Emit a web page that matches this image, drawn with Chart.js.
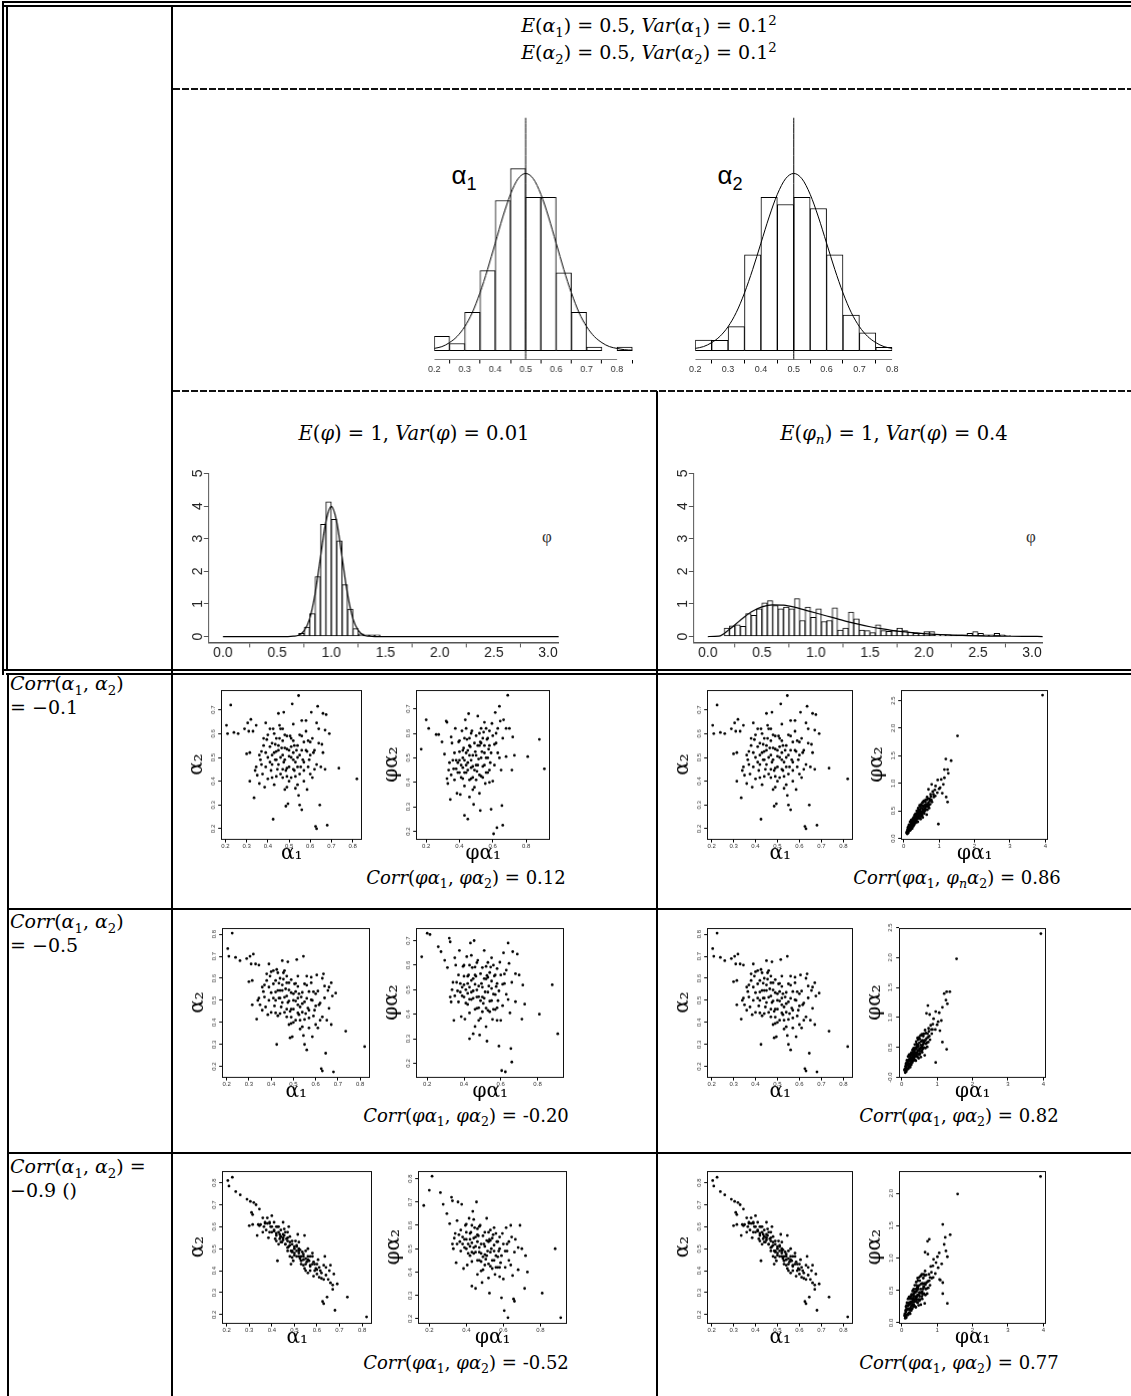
<!DOCTYPE html>
<html>
<head>
<meta charset="utf-8">
<script src="https://cdn.jsdelivr.net/npm/chart.js@4.4.1/dist/chart.umd.min.js"></script>
<style>
body { margin: 0; background: #fff; }
#page { position: relative; width: 1131px; height: 1396px; overflow: hidden; background: #fff; }
.ln { position: absolute; background: #000; }
.dash { position: absolute; height: 2px; background: repeating-linear-gradient(90deg, #111 0 7px, transparent 7px 9px); }
.m { position: absolute; font-family: 'DejaVu Serif', serif; font-size: 18px; white-space: nowrap; color: #000; }
.ctr { transform: translate(-50%, -50%); }
.m sub, .m sup, .g sub { font-size: 70%; line-height: 0; }
.g { position: absolute; font-family: 'Liberation Sans', sans-serif; white-space: nowrap; color: #000; transform: translate(-50%, -50%); }
.holder { position: absolute; }
</style>
</head>
<body>
<div id="page">
  <div class="ln" style="left:2px;top:1px;width:1129px;height:2px"></div>
  <div class="ln" style="left:2px;top:5px;width:1129px;height:2px"></div>
  <div class="ln" style="left:2px;top:1px;width:2px;height:674px"></div>
  <div class="ln" style="left:6px;top:5px;width:2px;height:666px"></div>
  <div class="ln" style="left:171px;top:5px;width:2px;height:1391px"></div>
  <div class="ln" style="left:2px;top:669px;width:1129px;height:2px"></div>
  <div class="ln" style="left:6px;top:673px;width:1125px;height:2px"></div>
  <div class="ln" style="left:7px;top:673px;width:2px;height:723px"></div>
  <div class="ln" style="left:7px;top:908px;width:1124px;height:2px"></div>
  <div class="ln" style="left:7px;top:1152px;width:1124px;height:2px"></div>
  <div class="ln" style="left:656px;top:391px;width:2px;height:1005px"></div>
  <div class="dash" style="left:173px;top:88px;width:958px"></div>
  <div class="dash" style="left:173px;top:390px;width:958px"></div>

  <div class="m ctr" style="left:649px;top:25px;font-size:19px"><i>E</i>(<i>α</i><sub>1</sub>) = 0.5, <i>Var</i>(<i>α</i><sub>1</sub>) = 0.1<sup>2</sup></div>
  <div class="m ctr" style="left:649px;top:52px;font-size:19px"><i>E</i>(<i>α</i><sub>2</sub>) = 0.5, <i>Var</i>(<i>α</i><sub>2</sub>) = 0.1<sup>2</sup></div>

  <div class="g" style="left:464px;top:175px;font-size:26px">α<sub>1</sub></div>
  <div class="g" style="left:730px;top:175px;font-size:26px">α<sub>2</sub></div>

  <div class="m ctr" style="left:414px;top:433px;font-size:19.5px"><i>E</i>(<i>φ</i>) = 1, <i>Var</i>(<i>φ</i>) = 0.01</div>
  <div class="m ctr" style="left:894px;top:433px;font-size:19.5px"><i>E</i>(<i>φ</i><sub><i>n</i></sub>) = 1, <i>Var</i>(<i>φ</i>) = 0.4</div>
  <div class="m ctr" style="left:547px;top:537px;font-family:'Liberation Serif';font-size:17px;color:#333">φ</div>
  <div class="m ctr" style="left:1031px;top:537px;font-family:'Liberation Serif';font-size:17px;color:#333">φ</div>

  <div class="m" style="left:10px;top:671px;line-height:24px;font-size:19px"><i>Corr</i>(<i>α</i><sub>1</sub>, <i>α</i><sub>2</sub>)<br>= −0.1</div>
  <div class="m" style="left:10px;top:909px;line-height:24px;font-size:19px"><i>Corr</i>(<i>α</i><sub>1</sub>, <i>α</i><sub>2</sub>)<br>= −0.5</div>
  <div class="m" style="left:10px;top:1154px;line-height:24px;font-size:19px"><i>Corr</i>(<i>α</i><sub>1</sub>, <i>α</i><sub>2</sub>) =<br>−0.9 ()</div>

  <div class="m ctr" style="left:466px;top:877px"><i>Corr</i>(<i>φα</i><sub>1</sub>, <i>φα</i><sub>2</sub>) = 0.12</div>
  <div class="m ctr" style="left:957px;top:877px"><i>Corr</i>(<i>φα</i><sub>1</sub>, <i>φ</i><sub><i>n</i></sub><i>α</i><sub>2</sub>) = 0.86</div>
  <div class="m ctr" style="left:466px;top:1115px"><i>Corr</i>(<i>φα</i><sub>1</sub>, <i>φα</i><sub>2</sub>) = -0.20</div>
  <div class="m ctr" style="left:959px;top:1115px"><i>Corr</i>(<i>φα</i><sub>1</sub>, <i>φα</i><sub>2</sub>) = 0.82</div>
  <div class="m ctr" style="left:466px;top:1362px"><i>Corr</i>(<i>φα</i><sub>1</sub>, <i>φα</i><sub>2</sub>) = -0.52</div>
  <div class="m ctr" style="left:959px;top:1362px"><i>Corr</i>(<i>φα</i><sub>1</sub>, <i>φα</i><sub>2</sub>) = 0.77</div>
</div>

<script>
// histogram data, density per 0.05 bin
const alpha1Bins = [0.2, 0.25, 0.3, 0.35, 0.4, 0.45, 0.5, 0.55, 0.6, 0.65, 0.7, 0.75, 0.8];
const alpha1Density = [0.32, 0.16, 0.86, 1.8, 3.38, 4.1, 3.45, 3.45, 1.75, 0.86, 0.08, 0, 0.08];
const alpha2Bins = [0.2, 0.25, 0.3, 0.35, 0.4, 0.45, 0.5, 0.55, 0.6, 0.65, 0.7, 0.75];
const alpha2Density = [0.24, 0.23, 0.54, 2.16, 3.45, 3.29, 3.45, 3.2, 2.16, 0.8, 0.4, 0.075];
const alphaCurveX = [0.2, 0.225, 0.25, 0.275, 0.3, 0.325, 0.35, 0.375, 0.4, 0.425, 0.45, 0.475, 0.5,
  0.525, 0.55, 0.575, 0.6, 0.625, 0.65, 0.675, 0.7, 0.725, 0.75, 0.775, 0.8, 0.825, 0.85];
const alphaCurveY = [0.05, 0.09, 0.18, 0.32, 0.54, 0.86, 1.3, 1.83, 2.42, 3.01, 3.52, 3.87, 3.99,
  3.87, 3.52, 3.01, 2.42, 1.83, 1.3, 0.86, 0.54, 0.32, 0.18, 0.09, 0.05, 0.02, 0.01];

const phiBins = [0.7, 0.75, 0.8, 0.85, 0.9, 0.95, 1.0, 1.05, 1.1, 1.15, 1.2, 1.25, 1.3, 1.35, 1.4];
const phiDensity = [0.1, 0.29, 0.7, 1.84, 3.44, 4.13, 3.59, 2.93, 1.59, 0.84, 0.24, 0.08, 0.05, 0.05, 0.05];
const phiCurveX = [0, 0.6, 0.65, 0.7, 0.75, 0.8, 0.85, 0.9, 0.95, 1.0, 1.05, 1.1, 1.15, 1.2, 1.25, 1.3, 1.35, 1.4, 3.1];
const phiCurveY = [0, 0, 0.01, 0.04, 0.18, 0.54, 1.3, 2.42, 3.52, 3.99, 3.52, 2.42, 1.3, 0.54, 0.18, 0.04, 0.01, 0, 0];

const phiNBins = [0.15, 0.2, 0.25, 0.3, 0.35, 0.4, 0.45, 0.5, 0.55, 0.6, 0.65, 0.7, 0.75, 0.8, 0.85, 0.9, 0.95,
  1.0, 1.05, 1.1, 1.15, 1.2, 1.25, 1.3, 1.35, 1.4, 1.45, 1.5, 1.55, 1.6, 1.65, 1.7, 1.75, 1.8, 1.85, 1.9, 1.95,
  2.0, 2.05, 2.1, 2.15, 2.2, 2.25, 2.3, 2.35, 2.4, 2.45, 2.5, 2.55, 2.6, 2.65, 2.7, 2.75];
const phiNDensity = [0.26, 0.33, 0.36, 0.31, 0.70, 0.65, 0.85, 1.03, 1.10, 0.95, 0.85, 0.90, 0.85, 1.16, 0.49,
  0.90, 0.59, 0.85, 0.46, 0.49, 0.88, 0.20, 0.26, 0.75, 0.54, 0.20, 0.18, 0.12, 0.36, 0.18, 0.16, 0.18, 0.26,
  0.18, 0.13, 0.10, 0.10, 0.15, 0.15, 0.06, 0.06, 0.06, 0.05, 0.05, 0.05, 0.10, 0.15, 0.10, 0.05, 0.05, 0.10,
  0.05, 0.03];
const phiNCurveX = [0, 0.1, 0.2, 0.3, 0.4, 0.5, 0.6, 0.7, 0.8, 0.9, 1.0, 1.1, 1.2, 1.3, 1.4, 1.5, 1.6, 1.7, 1.8,
  1.9, 2.0, 2.2, 2.4, 2.6, 2.8, 3.0, 3.1];
const phiNCurveY = [0, 0.01, 0.22, 0.5, 0.75, 0.91, 0.97, 0.96, 0.9, 0.81, 0.72, 0.63, 0.54, 0.45, 0.37, 0.3,
  0.24, 0.19, 0.15, 0.12, 0.09, 0.05, 0.03, 0.015, 0.008, 0.003, 0];

// scatter data: alpha1 draws are shared by the three correlation rows
const alpha1Draw = [.205,.21,.225,.24,.26,.29,.305,.32,.31,.345, .33,.30,.315,.315,.335,.345,.34,.35,.36,.365,
  .37,.375,.385,.39,.39,.395,.40,.41,.41,.415, .42,.42,.425,.43,.435,.435,.44,.445,.425,.45,
  .455,.455,.46,.465,.47,.47,.475,.475,.48,.48, .485,.485,.49,.49,.495,.50,.50,.505,.51,.51,
  .515,.52,.52,.525,.525,.53,.535,.54,.545,.545, .55,.55,.555,.56,.56,.565,.57,.57,.58,.58,
  .585,.585,.595,.60,.605,.61,.615,.62,.625,.63, .63,.635,.64,.645,.65,.655,.66,.67,.675,.68,
  .735,.82,.45,.47,.49,.52,.54,.44,.38,.60];
const alpha2Row1 = [.635,.60,.72,.605,.60,.62,.645,.66,.61,.635, .61,.515,.52,.40,.33,.46,.445,.425,.39,.49,
  .525,.43,.375,.46,.645,.575,.595,.545,.62,.445, .51,.415,.62,.385,.49,.555,.525,.45,.24,.685,
  .635,.58,.50,.54,.415,.62,.69,.48,.365,.595, .445,.295,.535,.375,.305,.505,.46,.59,.545,.415,
  .725,.64,.49,.55,.445,.37,.53,.385,.34,.76, .30,.595,.46,.28,.655,.49,.565,.445,.655,.61,
  .365,.525,.49,.565,.69,.415,.52,.45,.21,.20, .645,.715,.62,.30,.46,.555,.685,.615,.68,.215,
  .455,.41,.53,.45,.455,.52,.50,.42,.55,.43];
const alpha2Row2 = [.735,.70,.805,.695,.68,.69,.70,.71,.665,.66, .665,.585,.59,.48,.415,.51,.50,.48,.455,.54,
  .57,.47,.435,.50,.665,.61,.63,.575,.635,.475, .538,.443,.64,.43,.51,.578,.545,.47,.30,.68,
  .625,.596,.514,.552,.425,.61,.675,.49,.39,.58, .45,.33,.535,.395,.335,.50,.46,.575,.54,.41,
  .685,.61,.48,.53,.435,.37,.515,.38,.34,.70, .30,.575,.44,.275,.61,.465,.54,.42,.605,.58,
  .335,.50,.455,.53,.615,.375,.48,.41,.19,.18, .60,.62,.565,.26,.41,.545,.56,.58,.52,.175,
  .36,.29,.545,.46,.46,.51,.485,.44,.59,.39];
const alpha2Row3 = [.81,.785,.825,.76,.745,.725,.715,.71,.665,.68, .70,.605,.61,.655,.56,.605,.61,.61,.575,.60,
  .615,.585,.55,.575,.62,.60,.65,.58,.62,.545, .56,.535,.60,.52,.545,.565,.555,.53,.445,.62,
  .59,.56,.52,.545,.49,.575,.60,.51,.465,.555, .49,.43,.52,.46,.445,.50,.48,.535,.51,.465,
  .565,.53,.48,.495,.455,.43,.485,.425,.41,.56, .40,.49,.44,.39,.50,.445,.465,.42,.48,.465,
  .375,.44,.41,.43,.45,.37,.40,.365,.26,.25, .425,.465,.415,.28,.36,.40,.425,.335,.385,.22,
  .28,.19,.55,.505,.49,.49,.465,.53,.615,.385];
// denser core of the alpha clouds
const alpha1Core = [.36,.37,.38,.39,.40,.40,.41,.42,.42,.43, .43,.44,.44,.45,.45,.46,.46,.47,.47,.48,
  .48,.49,.49,.50,.50,.51,.51,.52,.52,.53, .53,.54,.54,.55,.55,.56,.56,.57,.57,.58,
  .59,.59,.60,.61,.62,.63,.64,.66,.67,.69];
const alpha2Row1Core = [.51,.47,.58,.52,.50,.41,.48,.56,.47,.52, .60,.49,.58,.47,.55,.43,.62,.51,.57,.49,
  .54,.42,.59,.53,.40,.50,.58,.45,.57,.48, .42,.55,.46,.51,.43,.53,.59,.48,.40,.53,
  .57,.46,.51,.58,.53,.47,.56,.52,.45,.60];
const alpha2Row2Core = [.56,.515,.62,.56,.535,.445,.51,.59,.50,.545, .625,.51,.60,.49,.57,.445,.635,.52,.58,.497,
  .547,.424,.594,.53,.40,.497,.577,.443,.563,.47, .41,.536,.446,.493,.413,.509,.569,.455,.375,.502,
  .539,.429,.475,.542,.488,.425,.511,.464,.39,.533];
const alpha2Row3Core = [.64,.62,.64,.615,.60,.575,.585,.60,.57,.575, .60,.555,.585,.54,.565,.52,.575,.535,.55,.515,
  .53,.485,.535,.51,.47,.49,.515,.465,.50,.465, .445,.475,.45,.455,.43,.45,.465,.425,.40,.43,
  .43,.40,.405,.415,.39,.36,.38,.345,.315,.34];

const phiA1 = [.17,.20,.215,.26,.275,.295,.31,.32,.325,.325, .33,.335,.345,.35,.355,.36,.365,.37,.375,.38,
  .385,.39,.395,.40,.40,.405,.41,.415,.42,.42, .425,.43,.43,.435,.44,.445,.45,.45,.455,.46,
  .46,.465,.47,.475,.48,.485,.49,.495,.50,.505, .51,.515,.52,.525,.525,.53,.535,.54,.545,.55,
  .555,.56,.565,.57,.575,.58,.585,.59,.595,.60, .605,.61,.615,.62,.625,.63,.64,.645,.65,.655,
  .66,.665,.68,.69,.70,.715,.73,.72,.81,.88, .91,.44,.47,.50,.52,.48,.55,.43,.58,.46, .53];
const phiA2Row1 = [.535,.655,.62,.595,.595,.565,.515,.65,.645,.415, .395,.45,.33,.585,.56,.49,.455,.41,.62,.455,
  .355,.48,.565,.525,.44,.35,.47,.61,.415,.50, .54,.265,.385,.655,.47,.575,.25,.45,.68,.51,
  .34,.545,.415,.61,.465,.31,.38,.525,.59,.445, .67,.495,.355,.285,.565,.425,.525,.465,.605,.645,
  .395,.50,.575,.44,.535,.61,.48,.29,.64,.405, .19,.555,.685,.60,.215,.52,.71,.65,.45,.305,
  .225,.655,.505,.755,.62,.45,.51,.585,.505,.575, .455,.52,.49,.47,.55,.42,.52,.44,.45,.58, .62];
const phiA2Row2 = [.634,.73,.725,.675,.655,.62,.59,.71,.695,.47, .45,.50,.375,.63,.60,.53,.495,.45,.66,.49,
  .39,.51,.595,.555,.47,.38,.50,.635,.44,.525, .56,.30,.405,.69,.49,.59,.32,.465,.70,.522,
  .35,.555,.424,.62,.471,.315,.383,.525,.59,.444, .66,.491,.349,.29,.558,.416,.515,.453,.592,.63,
  .379,.482,.556,.419,.513,.586,.455,.27,.612,.375, .17,.522,.65,.564,.165,.481,.69,.607,.405,.26,
  .205,.655,.451,.645,.56,.38,.441,.519,.40,.52, .32,.538,.499,.47,.544,.426,.505,.461,.426,.592, .611];
const phiA2Row3 = [.685,.75,.81,.74,.69,.65,.607,.72,.705,.52, .50,.545,.44,.62,.70,.56,.53,.49,.69,.52,
  .415,.54,.60,.57,.50,.43,.52,.63,.47,.54, .57,.34,.445,.66,.505,.59,.33,.485,.70,.53,
  .39,.555,.45,.60,.48,.355,.41,.52,.57,.455, .63,.49,.375,.31,.54,.425,.50,.45,.56,.59,
  .39,.47,.53,.42,.49,.55,.44,.29,.565,.37, .235,.49,.59,.52,.205,.45,.60,.55,.385,.285,
  .275,.54,.41,.60,.50,.33,.40,.47,.31,.50, .205,.545,.505,.475,.53,.445,.49,.485,.42,.585, .58];
const phiA1Core = [.34,.35,.37,.38,.39,.40,.40,.41,.42,.42, .43,.43,.44,.44,.45,.45,.46,.46,.47,.47,
  .48,.48,.49,.49,.50,.50,.51,.51,.52,.52, .53,.53,.54,.54,.55,.55,.56,.56,.57,.57,
  .58,.58,.59,.60,.61,.62,.63,.64,.66,.68];
const phiA2Row1Core = [.48,.43,.52,.49,.44,.57,.49,.42,.53,.46, .58,.49,.44,.62,.53,.48,.41,.55,.46,.60,
  .51,.37,.56,.45,.51,.41,.55,.47,.60,.43, .50,.56,.42,.58,.47,.55,.62,.44,.50,.58,
  .55,.40,.52,.59,.47,.56,.62,.50,.58,.62];
const phiA2Row2Core = [.53,.475,.56,.525,.475,.60,.52,.445,.555,.485, .60,.51,.46,.64,.545,.495,.42,.56,.47,.61,
  .515,.375,.565,.455,.51,.41,.545,.465,.595,.425, .49,.55,.41,.57,.455,.535,.60,.42,.48,.56,
  .525,.375,.495,.56,.435,.525,.58,.46,.53,.565];
const phiA2Row3Core = [.565,.52,.58,.55,.505,.605,.54,.48,.565,.51, .60,.525,.48,.625,.55,.51,.45,.56,.485,.595,
  .52,.405,.555,.465,.51,.43,.535,.47,.57,.435, .485,.535,.415,.545,.45,.515,.565,.42,.465,.53,
  .50,.38,.47,.52,.42,.49,.53,.43,.485,.505];

const phinRow1 = [[.08,.10],[.10,.12],[.10,.08],[.12,.15],[.12,.20],[.14,.13],[.15,.18],[.15,.25],[.17,.14],[.18,.20],
  [.18,.30],[.20,.17],[.20,.25],[.21,.33],[.22,.21],[.23,.28],[.24,.18],[.25,.24],[.25,.35],[.26,.30],
  [.27,.22],[.28,.38],[.28,.27],[.30,.32],[.30,.25],[.31,.42],[.32,.36],[.33,.28],[.34,.45],[.35,.33],
  [.35,.39],[.36,.30],[.37,.50],[.38,.40],[.38,.35],[.40,.45],[.40,.30],[.41,.55],[.42,.38],[.43,.48],
  [.44,.42],[.45,.60],[.45,.36],[.46,.52],[.48,.45],[.49,.62],[.50,.40],[.50,.55],[.52,.48],[.53,.65],
  [.54,.38],[.55,.58],[.56,.50],[.57,.68],[.58,.45],[.60,.60],[.60,.55],[.62,.70],[.63,.52],[.64,.62],
  [.65,.43],[.66,.75],[.68,.58],[.70,.65],[.70,.89],[.72,.55],[.73,.72],[.75,.62],[.76,.80],[.78,.70],
  [.79,.98],[.98,.26],[.82,.85],[.85,.75],[.88,.88],[.89,.77],[.90,.95],[.95,.83],[.96,1.06],[1.00,.90],
  [1.03,.92],[1.06,1.07],[1.09,.82],[1.12,.98],[1.15,1.10],[1.15,1.25],[1.19,1.44],[1.20,.75],[1.24,1.25],[1.24,.66],
  [1.26,1.18],[1.34,1.41],[1.52,1.86],[3.92,2.60],
  [.13,.10],[.16,.22],[.19,.15],[.22,.26],[.24,.32],[.27,.30],[.29,.34],[.33,.40],[.36,.42],[.39,.38],
  [.42,.46],[.44,.50],[.47,.40],[.51,.45],[.55,.50],[.58,.52],[.62,.58],[.67,.62],
  [.09,.12],[.11,.10],[.11,.16],[.13,.18],[.14,.22],[.16,.14],[.17,.20],[.19,.24],[.20,.21],[.21,.27],
  [.22,.18],[.23,.33],[.25,.28],[.26,.22],[.27,.36],[.29,.27],[.30,.38],[.31,.30],[.32,.43],[.33,.34],
  [.34,.30],[.36,.36],[.37,.44],[.38,.30],[.39,.47],[.41,.40],[.42,.52],[.43,.36],[.45,.44],[.46,.58],
  [.47,.50],[.48,.35],[.50,.48],[.51,.60],[.52,.42],[.54,.53],[.55,.66],[.57,.47],[.58,.60],[.60,.50],
  [.61,.66],[.63,.58],[.65,.70],[.67,.52],[.69,.72],[.71,.60],[.74,.68],[.77,.76],[.80,.66],[.84,.80]];
const phinRow2 = [[.08,.11],[.10,.13],[.10,.07],[.12,.16],[.12,.22],[.14,.13],[.15,.19],[.15,.28],[.17,.13],[.18,.21],
  [.18,.34],[.20,.16],[.20,.27],[.21,.37],[.22,.21],[.23,.30],[.24,.16],[.25,.24],[.25,.38],[.26,.31],
  [.27,.20],[.28,.41],[.28,.27],[.30,.33],[.30,.24],[.31,.45],[.32,.37],[.33,.27],[.34,.48],[.35,.32],
  [.35,.40],[.36,.28],[.37,.54],[.38,.41],[.38,.34],[.40,.47],[.40,.27],[.41,.59],[.42,.37],[.43,.50],
  [.44,.41],[.45,.65],[.45,.33],[.46,.54],[.48,.44],[.49,.66],[.50,.37],[.50,.57],[.52,.47],[.53,.69],
  [.54,.33],[.55,.59],[.56,.48],[.57,.71],[.58,.41],[.60,.60],[.60,.54],[.62,.72],[.63,.49],[.64,.61],
  [.65,.36],[.66,.78],[.68,.55],[.70,.64],[.70,1.06],[.72,.50],[.73,.72],[.75,.58],[.76,.81],[.78,.68],
  [.79,1.04],[.96,.24],[.82,.86],[.85,.72],[.88,.88],[.87,.79],[.90,.97],[.95,.79],[.96,1.09],[1.00,.87],
  [1.03,.92],[1.06,1.07],[1.08,.77],[1.12,.94],[1.15,1.16],[1.25,1.28],[1.20,1.39],[1.15,.58],[1.29,1.22],[1.27,.46],
  [1.27,1.42],[1.36,1.42],[1.55,1.97],[3.93,2.39],
  [.13,.09],[.16,.24],[.19,.14],[.22,.27],[.24,.34],[.27,.31],[.29,.36],[.33,.42],[.36,.44],[.39,.38],
  [.42,.47],[.44,.52],[.47,.38],[.51,.43],[.55,.49],[.58,.50],[.62,.57],[.67,.61],[.74,1.19],
  [.09,.13],[.11,.10],[.11,.18],[.13,.20],[.14,.24],[.16,.13],[.17,.21],[.19,.26],[.20,.21],[.21,.29],
  [.22,.17],[.23,.36],[.25,.29],[.26,.21],[.27,.39],[.29,.26],[.30,.40],[.31,.30],[.32,.46],[.33,.34],
  [.34,.29],[.36,.36],[.37,.46],[.38,.28],[.39,.49],[.41,.40],[.42,.55],[.43,.34],[.45,.44],[.46,.62],
  [.47,.51],[.48,.31],[.50,.47],[.51,.63],[.52,.39],[.54,.53],[.55,.69],[.57,.44],[.58,.61],[.60,.47],
  [.61,.68],[.63,.57],[.65,.72],[.67,.48],[.69,.73],[.71,.57],[.74,.66],[.77,.76],[.80,.62],[.84,.79]];
const phinRow3 = [[.08,.11],[.10,.13],[.10,.07],[.12,.17],[.12,.25],[.14,.12],[.15,.20],[.15,.31],[.17,.12],[.18,.21],
  [.18,.37],[.20,.15],[.20,.28],[.21,.40],[.22,.20],[.23,.31],[.24,.14],[.25,.23],[.25,.41],[.26,.32],
  [.27,.19],[.28,.44],[.28,.26],[.30,.33],[.30,.22],[.31,.49],[.32,.38],[.33,.25],[.34,.52],[.35,.32],
  [.35,.41],[.36,.26],[.37,.58],[.38,.41],[.38,.33],[.40,.48],[.40,.24],[.41,.63],[.42,.36],[.43,.51],
  [.44,.41],[.45,.69],[.45,.31],[.46,.56],[.48,.43],[.49,.70],[.50,.34],[.50,.58],[.52,.46],[.53,.72],
  [.54,.28],[.55,.60],[.56,.46],[.57,.75],[.58,.37],[.60,.60],[.60,.52],[.62,.75],[.63,.45],[.64,.61],
  [.65,.30],[.66,.80],[.68,.52],[.70,.62],[.73,1.26],[.72,.45],[.74,1.06],[.75,.54],[.78,1.29],[.78,.65],
  [.66,1.09],[1.07,.67],[.82,.87],[.85,.69],[.88,.88],[.89,.70],[.90,.98],[.95,.76],[1.01,1.02],[.97,.93],
  [1.03,.85],[1.06,1.08],[1.09,.66],[1.13,.91],[1.20,1.21],[1.23,1.32],[1.16,1.52],[1.16,.45],[1.25,1.11],[1.29,.30],
  [1.29,1.02],[1.37,1.36],[1.58,1.99],[3.92,2.26],
  [.13,.08],[.16,.26],[.19,.13],[.22,.28],[.24,.37],[.27,.32],[.29,.37],[.33,.44],[.36,.46],[.39,.37],
  [.42,.48],[.44,.54],[.47,.36],[.51,.41],[.55,.47],[.58,.48],[.62,.56],[.67,.59],[1.16,.62],[.80,.70],
  [.09,.14],[.11,.09],[.11,.19],[.13,.21],[.14,.27],[.16,.13],[.17,.22],[.19,.27],[.20,.22],[.21,.31],
  [.22,.16],[.23,.39],[.25,.30],[.26,.20],[.27,.41],[.29,.26],[.30,.43],[.31,.29],[.32,.50],[.33,.35],
  [.34,.28],[.36,.36],[.37,.48],[.38,.25],[.39,.52],[.41,.39],[.42,.58],[.43,.32],[.45,.43],[.46,.65],
  [.47,.52],[.48,.27],[.50,.47],[.51,.65],[.52,.36],[.54,.52],[.55,.73],[.57,.41],[.58,.61],[.60,.44],
  [.61,.69],[.63,.55],[.65,.73],[.67,.43],[.69,.74],[.71,.53],[.74,.64],[.77,.75],[.80,.58],[.84,.78]];

// ---- chart helpers ----
Chart.defaults.animation = false;
Chart.defaults.font.family = "'Liberation Sans', Arial, sans-serif";
Chart.defaults.color = '#000';
Chart.defaults.plugins.legend.display = false;
Chart.defaults.plugins.tooltip.enabled = false;

const page = document.getElementById('page');

const framePlugin = {
  id: 'frame',
  afterDatasetsDraw(chart, args, opts) {
    if (!opts || !opts.show) return;
    const a = chart.chartArea;
    const ctx = chart.ctx;
    ctx.save();
    ctx.strokeStyle = '#111';
    ctx.lineWidth = 1;
    ctx.strokeRect(Math.round(a.left) + 0.5, Math.round(a.top) + 0.5,
      Math.round(a.right - a.left) - 1, Math.round(a.bottom - a.top) - 1);
    ctx.restore();
  }
};

function zip(xs, ys) {
  const n = Math.min(xs.length, ys.length);
  const out = [];
  for (let i = 0; i < n; i++) out.push({x: xs[i], y: ys[i]});
  return out;
}
function pairs(list) {
  return list.map(p => ({x: p[0], y: p[1]}));
}

// build the chart, then resize and shift its canvas so the plot area lands on box {l,t,r,b}
function placeChart(config, box) {
  const holder = document.createElement('div');
  holder.className = 'holder';
  const canvas = document.createElement('canvas');
  holder.appendChild(canvas);
  page.appendChild(holder);
  let w = box.r - box.l + 60;
  let h = box.b - box.t + 60;
  canvas.width = w;
  canvas.height = h;
  config.options.responsive = false;
  config.options.maintainAspectRatio = false;
  const chart = new Chart(canvas, config);
  for (let k = 0; k < 3; k++) {
    const a = chart.chartArea;
    w += (box.r - box.l) - (a.right - a.left);
    h += (box.b - box.t) - (a.bottom - a.top);
    chart.resize(w, h);
  }
  const a = chart.chartArea;
  holder.style.left = (box.l - a.left) + 'px';
  holder.style.top = (box.t - a.top) + 'px';
  return chart;
}

function lineSet(data, width) {
  return {type: 'line', data: data, borderColor: '#000', borderWidth: width || 1, pointRadius: 0,
    cubicInterpolationMode: 'monotone', order: 0};
}
function barSet(bins, dens) {
  return {type: 'bar', data: zip(bins.map(b => b + 0.025), dens), backgroundColor: '#fff',
    borderColor: '#000', borderWidth: 1, borderSkipped: false, barPercentage: 1, categoryPercentage: 1, order: 1};
}

function alphaHist(bins, dens, xMax, box) {
  return placeChart({
    type: 'bar',
    data: {datasets: [
      lineSet(zip(alphaCurveX, alphaCurveY)),
      lineSet([{x: 0.5, y: -0.2}, {x: 0.5, y: 5.25}]),
      lineSet([{x: 0.2, y: -0.2}, {x: 0.8, y: -0.2}]),
      barSet(bins, dens)
    ]},
    options: {
      layout: {padding: 0},
      scales: {
        x: {type: 'linear', min: 0.2, max: xMax, offset: false, border: {display: false},
          grid: {drawOnChartArea: false, tickLength: 4, color: '#000'},
          ticks: {stepSize: 0.1, includeBounds: false, autoSkip: false, maxRotation: 0, padding: 1,
            color: '#333', font: {size: 9}, callback: v => v.toFixed(1)}},
        y: {display: false, min: -0.2, max: 5.25}
      }
    }
  }, box);
}

function phiHist(bins, dens, cx, cy, box) {
  return placeChart({
    type: 'bar',
    data: {datasets: [lineSet(zip(cx, cy), 1.2), barSet(bins, dens)]},
    options: {
      layout: {padding: 0},
      scales: {
        x: {type: 'linear', min: -0.13, max: 3.1, offset: false,
          border: {display: true, color: '#555', width: 1.5},
          grid: {drawOnChartArea: false, tickLength: 5, color: '#555'},
          ticks: {stepSize: 0.5, includeBounds: false, autoSkip: false, maxRotation: 0, padding: -3,
            color: '#222', font: {size: 14}, callback: v => v.toFixed(1)}},
        y: {min: -0.18, max: 5, border: {display: true, color: '#555'},
          grid: {drawOnChartArea: false, tickLength: 5, color: '#555'},
          ticks: {stepSize: 1, includeBounds: false, autoSkip: false, minRotation: 90, maxRotation: 90,
            crossAlign: 'center', padding: 2, color: '#222', font: {size: 14}}}
      }
    }
  }, box);
}

function scatterPlot(points, box, xr, yr, xStep, yStep, xDec, yDec, xTitle, yTitle) {
  return placeChart({
    type: 'scatter',
    data: {datasets: [{data: points, pointRadius: 1.4, pointBackgroundColor: '#000',
      pointBorderWidth: 0, pointHoverRadius: 0}]},
    options: {
      layout: {padding: 2},
      plugins: {frame: {show: true}},
      scales: {
        x: {type: 'linear', min: xr[0], max: xr[1], border: {display: false},
          grid: {drawOnChartArea: false, tickLength: 3, color: '#000'},
          ticks: {stepSize: xStep, includeBounds: false, autoSkip: false, maxRotation: 0, padding: 0,
            color: '#333', font: {size: 6}, callback: v => v.toFixed(xDec)},
          title: {display: true, text: xTitle, color: '#000', font: {family: "'DejaVu Serif', serif", size: 20},
            padding: {top: -8, bottom: 0}}},
        y: {min: yr[0], max: yr[1], border: {display: false},
          grid: {drawOnChartArea: false, tickLength: 3, color: '#000'},
          ticks: {stepSize: yStep, includeBounds: false, autoSkip: false, minRotation: 90, maxRotation: 90,
            crossAlign: 'center', padding: 1, color: '#333', font: {size: 6}, callback: v => v.toFixed(yDec)},
          title: {display: true, text: yTitle, color: '#000', font: {family: "'DejaVu Serif', serif", size: 20},
            padding: {top: 0, bottom: 0}}}
      }
    },
    plugins: [framePlugin]
  }, box);
}

// ---- top histograms ----
alphaHist(alpha1Bins, alpha1Density, 0.86, {l: 434, r: 634, t: 117, b: 359});
alphaHist(alpha2Bins, alpha2Density, 0.8, {l: 695, r: 892, t: 117, b: 359});
phiHist(phiBins, phiDensity, phiCurveX, phiCurveY, {l: 209, r: 558, t: 473, b: 642});
phiHist(phiNBins, phiNDensity, phiNCurveX, phiNCurveY, {l: 694, r: 1042, t: 473, b: 642});

// ---- scatter rows ----
const alphaX = [0.18, 0.845];
const phiX = [0.14, 0.945];
const phinX = [-0.07, 4.08];
const rows = [
  {t: 690, b: 839, p1: [221, 362], p2: [416, 550], p3: [707, 853], p4: [901, 1048],
    a2: alpha2Row1, a2c: alpha2Row1Core, aY: [0.155, 0.785],
    f2: phiA2Row1, f2c: phiA2Row1Core, fY: [0.167, 0.778], n: phinRow1, nY: [-0.02, 2.7]},
  {t: 928, b: 1077, p1: [222, 370], p2: [416, 564], p3: [707, 853], p4: [899, 1046],
    a2: alpha2Row2, a2c: alpha2Row2Core, aY: [0.15, 0.83],
    f2: phiA2Row2, f2c: phiA2Row2Core, fY: [0.142, 0.753], n: phinRow2, nY: [-0.01, 2.49]},
  {t: 1171, b: 1323, p1: [222, 372], p2: [418, 567], p3: [707, 853], p4: [899, 1046],
    a2: alpha2Row3, a2c: alpha2Row3Core, aY: [0.16, 0.855],
    f2: phiA2Row3, f2c: phiA2Row3Core, fY: [0.18, 0.834], n: phinRow3, nY: [-0.01, 2.35]}
];

rows.forEach(row => {
  const alphaPts = zip(alpha1Draw, row.a2).concat(zip(alpha1Core, row.a2c));
  const phiPts = zip(phiA1, row.f2).concat(zip(phiA1Core, row.f2c));
  scatterPlot(alphaPts, {l: row.p1[0], r: row.p1[1], t: row.t, b: row.b}, alphaX, row.aY, 0.1, 0.1, 1, 1, 'α₁', 'α₂');
  scatterPlot(phiPts, {l: row.p2[0], r: row.p2[1], t: row.t, b: row.b}, phiX, row.fY, 0.2, 0.1, 1, 1, 'φα₁', 'φα₂');
  scatterPlot(alphaPts, {l: row.p3[0], r: row.p3[1], t: row.t, b: row.b}, alphaX, row.aY, 0.1, 0.1, 1, 1, 'α₁', 'α₂');
  scatterPlot(pairs(row.n), {l: row.p4[0], r: row.p4[1], t: row.t, b: row.b}, phinX, row.nY, 1, 0.5, 0, 1, 'φα₁', 'φα₂');
});
</script>
</body>
</html>
